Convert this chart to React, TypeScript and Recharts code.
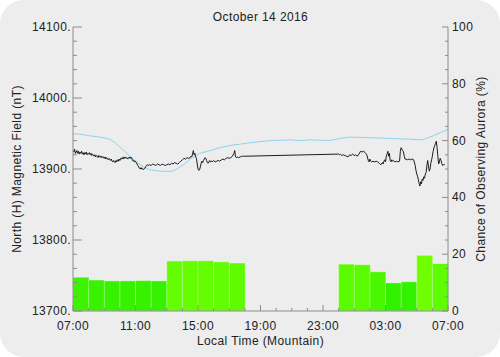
import { Bar, BarChart, Cell, Line, LineChart, XAxis, YAxis } from "recharts";

// hours after 07:00 local (Mountain)
const hourSlots = [
  0, 1, 2, 3, 4, 5, 6, 7, 8, 9, 10, 11, 12, 13, 14, 15, 16, 17, 18, 19, 20, 21, 22, 23,
];
const auroraChance = [
  11.9, 10.9, 10.6, 10.6, 10.7, 10.6, 17.6, 17.7, 17.7, 17.3, 16.9, null, null, null, null, null, null,
  16.5, 16.3, 13.8, 9.9, 10.3, 19.6, 16.7,
];

// quiet-day baseline (blue)
const baseTimes = [
  0, 0.45, 1.0, 1.7, 2.35, 2.7, 3.0, 3.3, 3.65, 4.0, 4.3, 4.6, 4.9, 5.2, 5.6, 6.2, 6.5, 6.85, 7.2,
  7.5, 7.8, 8.1, 8.8, 9.4, 10.0, 10.7, 11.3, 12.6, 13.9, 14.5, 15.2, 16.4, 17.1, 17.7, 19.0, 20.3,
  21.6, 22.2, 22.5, 22.85, 23.2, 23.5, 24,
];
const baseValues = [
  13950, 13949, 13947, 13945, 13942, 13937, 13931, 13925, 13918, 13911, 13906, 13902, 13899, 13898,
  13897, 13896.5, 13898, 13903, 13908, 13914, 13918, 13922, 13926, 13930, 13933, 13935, 13937,
  13940, 13941, 13940, 13941, 13940, 13943, 13945, 13944, 13943, 13942, 13941, 13942, 13945,
  13948, 13951, 13956,
];

// measured H component (black)
const magTimes = [
  0, 0.05, 0.1, 0.15, 0.2, 0.25, 0.3, 0.35, 0.4, 0.45, 0.5, 0.55, 0.6, 0.65, 0.7, 0.75, 0.8, 0.85,
  0.9, 0.95, 1.0, 1.05, 1.1, 1.15, 1.2, 1.25, 1.3, 1.35, 1.4, 1.45, 1.5, 1.55, 1.6, 1.65, 1.7, 1.75,
  1.8, 1.85, 1.9, 1.95, 2.0, 2.05, 2.1, 2.15, 2.2, 2.25, 2.3, 2.35, 2.4, 2.45, 2.5, 2.55, 2.6, 2.65,
  2.7, 2.75, 2.8, 2.85, 2.9, 2.95, 3.0, 3.05, 3.1, 3.15, 3.2, 3.25, 3.3, 3.35, 3.4, 3.45, 3.5, 3.55,
  3.6, 3.65, 3.7, 3.75, 3.8, 3.85, 3.9, 3.95, 4.0, 4.05, 4.1, 4.15, 4.2, 4.25, 4.3, 4.35, 4.4, 4.45,
  4.5, 4.55, 4.6, 4.65, 4.7, 4.75, 4.8, 4.9, 5.0, 5.1, 5.2, 5.3, 5.4, 5.5, 5.6, 5.7, 5.8, 5.9, 6.0,
  6.1, 6.2, 6.3, 6.4, 6.5, 6.6, 6.7, 6.8, 6.9, 7.0, 7.1, 7.2, 7.3, 7.4, 7.5, 7.55, 7.6, 7.65, 7.7,
  7.75, 7.8, 7.85, 7.9, 7.95, 8.0, 8.05, 8.1, 8.15, 8.2, 8.25, 8.3, 8.35, 8.4, 8.45, 8.5, 8.55, 8.6,
  8.65, 8.7, 8.75, 8.8, 8.85, 8.9, 9.0, 9.1, 9.2, 9.3, 9.4, 9.5, 9.6, 9.7, 9.8, 9.9, 10.0, 10.1,
  10.2, 10.3, 10.35, 10.4, 10.45, 10.5, 10.6, 10.7, 10.8, 10.9, 11.0, 17.0, 17.05, 17.1, 17.2, 17.3,
  17.4, 17.5, 17.6, 17.7, 17.8, 17.9, 18.0, 18.1, 18.2, 18.3, 18.4, 18.5, 18.6, 18.7, 18.8, 18.9,
  18.95, 19.0, 19.05, 19.1, 19.2, 19.3, 19.4, 19.5, 19.6, 19.7, 19.8, 19.85, 19.9, 19.95, 20.0,
  20.05, 20.1, 20.15, 20.2, 20.25, 20.3, 20.35, 20.4, 20.45, 20.5, 20.6, 20.7, 20.8, 20.9, 20.95,
  21.0, 21.05, 21.1, 21.15, 21.2, 21.25, 21.3, 21.4, 21.5, 21.6, 21.7, 21.8, 21.9, 21.95, 22.0,
  22.05, 22.1, 22.15, 22.2, 22.25, 22.3, 22.35, 22.4, 22.45, 22.5, 22.55, 22.6, 22.65, 22.7, 22.75,
  22.8, 22.85, 22.9, 22.95, 23.0, 23.05, 23.1, 23.15, 23.2, 23.25, 23.3, 23.35, 23.4, 23.45, 23.5,
  23.55, 23.6, 23.65, 23.7, 23.75, 23.8, 23.9, 24.0,
];
const magValues = [
  13926, 13924, 13928, 13922, 13924, 13926, 13922, 13925, 13921, 13924, 13922, 13925, 13921, 13923,
  13920, 13923, 13921, 13924, 13920, 13922, 13921, 13923, 13920, 13922, 13919, 13921, 13920, 13918,
  13920, 13917, 13919, 13918, 13916, 13919, 13917, 13918, 13916, 13918, 13916, 13917, 13915, 13917,
  13914, 13916, 13915, 13913, 13915, 13914, 13912, 13914, 13911, 13910, 13912, 13910, 13909, 13912,
  13910, 13913, 13911, 13914, 13912, 13915, 13914, 13916, 13914, 13917, 13915, 13917, 13915, 13916,
  13914, 13916, 13915, 13917, 13915, 13916, 13913, 13911, 13912, 13910, 13911, 13909, 13907, 13905,
  13903, 13901, 13900, 13902, 13900, 13901, 13899, 13900, 13901, 13903, 13905, 13906, 13905, 13906,
  13905, 13907, 13906, 13905, 13907, 13906, 13905, 13907, 13906, 13905, 13906, 13907, 13906, 13908,
  13907, 13909, 13908, 13907, 13909, 13911, 13913, 13915, 13914, 13916, 13915, 13916, 13918, 13917,
  13921, 13926, 13920, 13922, 13917, 13915, 13907, 13900, 13898, 13899, 13903, 13908, 13911, 13909,
  13912, 13914, 13916, 13915, 13912, 13909, 13908, 13910, 13912, 13910, 13911, 13910, 13912, 13910,
  13911, 13912, 13911, 13913, 13914, 13913, 13915, 13916, 13915, 13916, 13918, 13922, 13926, 13917,
  13916, 13917, 13916, 13917, 13918, 13918, 13918, 13921, 13920, 13921, 13919, 13920, 13919, 13918,
  13917, 13920, 13919, 13921, 13919, 13920, 13918, 13921, 13925, 13924, 13925, 13923, 13920, 13912,
  13910, 13914, 13911, 13910, 13911, 13910, 13911, 13910, 13908, 13906, 13909, 13907, 13911, 13913,
  13910, 13918, 13921, 13925, 13918, 13922, 13912, 13910, 13913, 13911, 13912, 13910, 13911, 13910,
  13911, 13925, 13930, 13928, 13926, 13924, 13918, 13914, 13914, 13913, 13914, 13913, 13914, 13913,
  13905, 13898, 13893, 13890, 13885, 13880, 13876, 13882, 13879, 13886, 13884, 13889, 13887, 13893,
  13895, 13905, 13912, 13904, 13897, 13900, 13908, 13913, 13918, 13925, 13930, 13933, 13936, 13939,
  13930, 13918, 13907, 13910, 13915, 13912, 13908, 13905, 13906, 13906, 13906,
];

const hourTicks = [
  0, 1, 2, 3, 4, 5, 6, 7, 8, 9, 10, 11, 12, 13, 14, 15, 16, 17, 18, 19, 20, 21, 22, 23, 24,
];
const fieldTicks = [
  13700, 13720, 13740, 13760, 13780, 13800, 13820, 13840, 13860, 13880, 13900, 13920, 13940,
  13960, 13980, 14000, 14020, 14040, 14060, 14080, 14100,
];
const chanceTicks = [
  0, 5, 10, 15, 20, 25, 30, 35, 40, 45, 50, 55, 60, 65, 70, 75, 80, 85, 90, 95, 100,
];

const barData = hourSlots.map((h, i) => ({ hour: h, chance: auroraChance[i] }));
const baseData = baseTimes.map((t, i) => ({ t, v: baseValues[i] }));
const magData = magTimes.map((t, i) => ({ t, v: magValues[i] }));

const AXIS = "#8c8c8c";
const INK = "#222";
const FONT = '"Liberation Sans", Arial, sans-serif';
const textStyle = { fontFamily: FONT, fontSize: 12, letterSpacing: 0.4 };
const margin = { top: 27, right: 0, bottom: 0, left: 0 };

const hourLabel = (h: number) => `${String((7 + h) % 24).padStart(2, "0")}:00`;

function barColor(v: number) {
  const r = Math.round(Math.min(120, Math.max(40, 50 + (v - 10) * 6.5)));
  const g = Math.round(Math.min(255, 240 + (v - 10) * 1.8));
  return `rgb(${r},${g},0)`;
}

function BottomTick({ x, y, payload }: any) {
  const major = payload.value % 4 === 0;
  return (
    <g>
      <line x1={x} x2={x} y1={y} y2={y - (major ? 6 : 3)} stroke={AXIS} />
      {major && (
        <text x={x} y={y + 19} textAnchor="middle" fill={INK} style={textStyle}>
          {hourLabel(payload.value)}
        </text>
      )}
    </g>
  );
}

function TopTick({ x, y, payload }: any) {
  const major = payload.value % 4 === 0;
  return <line x1={x} x2={x} y1={y} y2={y + (major ? 6 : 3)} stroke={AXIS} />;
}

function LeftTick({ x, y, payload }: any) {
  const major = payload.value % 100 === 0;
  return (
    <g>
      <line x1={x} x2={x + (major ? 9 : 4)} y1={y} y2={y} stroke={AXIS} />
      {major && (
        <text x={x - 2} y={y + 4} textAnchor="end" fill={INK} style={textStyle}>
          {`${payload.value}.`}
        </text>
      )}
    </g>
  );
}

function RightTick({ x, y, payload }: any) {
  const major = payload.value % 20 === 0;
  return (
    <g>
      <line x1={x} x2={x - (major ? 6 : 3)} y1={y} y2={y} stroke={AXIS} />
      {major && (
        <text x={x + 4} y={y + 4} textAnchor="start" fill={INK} style={textStyle}>
          {payload.value}
        </text>
      )}
    </g>
  );
}

export default function App() {
  const caption = { position: "absolute" as const, ...textStyle, color: INK, lineHeight: "14px", whiteSpace: "nowrap" as const };
  return (
    <div style={{ position: "absolute", left: 0, top: 0, width: 500, height: 357, background: "#fff" }}>
      <div style={{ position: "absolute", inset: 0, background: "#ededed", borderRadius: 24 }} />

      <div style={{ position: "absolute", left: 0, top: 0 }}>
        <BarChart width={500} height={357} data={barData} barCategoryGap={0} margin={{ top: 27, right: 52, bottom: 46, left: 73 }}>
          <XAxis dataKey="hour" hide />
          <YAxis hide domain={[0, 100]} allowDataOverflow />
          <Bar dataKey="chance" isAnimationActive={false} stroke="rgba(255,255,255,0.35)" strokeWidth={1}>
            {barData.map((d) => (
              <Cell key={d.hour} fill={barColor(d.chance ?? 0)} />
            ))}
          </Bar>
        </BarChart>
      </div>

      <div style={{ position: "absolute", left: 0, top: 0 }}>
        <LineChart width={500} height={357} margin={margin}>
          <XAxis
            xAxisId="bottom"
            dataKey="t"
            type="number"
            domain={[0, 24]}
            allowDataOverflow
            ticks={hourTicks}
            interval={0}
            height={46}
            tickSize={0}
            tickMargin={0}
            tickLine={false}
            axisLine={{ stroke: AXIS }}
            tick={<BottomTick />}
          />
          <XAxis
            xAxisId="top"
            orientation="top"
            dataKey="t"
            type="number"
            domain={[0, 24]}
            allowDataOverflow
            ticks={hourTicks}
            interval={0}
            height={0}
            tickSize={0}
            tickMargin={0}
            tickLine={false}
            axisLine={{ stroke: AXIS }}
            tick={<TopTick />}
          />
          <YAxis
            yAxisId="nt"
            domain={[13700, 14100]}
            allowDataOverflow
            ticks={fieldTicks}
            interval={0}
            width={73}
            tickSize={0}
            tickMargin={0}
            tickLine={false}
            axisLine={{ stroke: AXIS }}
            tick={<LeftTick />}
          />
          <YAxis
            yAxisId="pct"
            orientation="right"
            domain={[0, 100]}
            allowDataOverflow
            ticks={chanceTicks}
            interval={0}
            width={52}
            tickSize={0}
            tickMargin={0}
            tickLine={false}
            axisLine={{ stroke: AXIS }}
            tick={<RightTick />}
          />
          <Line
            xAxisId="bottom"
            yAxisId="nt"
            data={baseData}
            dataKey="v"
            stroke="#8fd3f0"
            strokeWidth={1}
            dot={false}
            isAnimationActive={false}
          />
          <Line
            xAxisId="bottom"
            yAxisId="nt"
            data={magData}
            dataKey="v"
            stroke="#1c1c1c"
            strokeWidth={1}
            dot={false}
            isAnimationActive={false}
          />
        </LineChart>
      </div>

      <div style={{ ...caption, left: 260.5, top: 10, transform: "translateX(-50%)" }}>October 14 2016</div>
      <div style={{ ...caption, left: 260.5, top: 334, transform: "translateX(-50%)" }}>Local Time (Mountain)</div>
      <div style={{ ...caption, left: 17, top: 169, transform: "translate(-50%,-50%) rotate(-90deg)" }}>
        North (H) Magnetic Field (nT)
      </div>
      <div style={{ ...caption, left: 481, top: 169, transform: "translate(-50%,-50%) rotate(-90deg)" }}>
        Chance of Observing Aurora (%)
      </div>
    </div>
  );
}
